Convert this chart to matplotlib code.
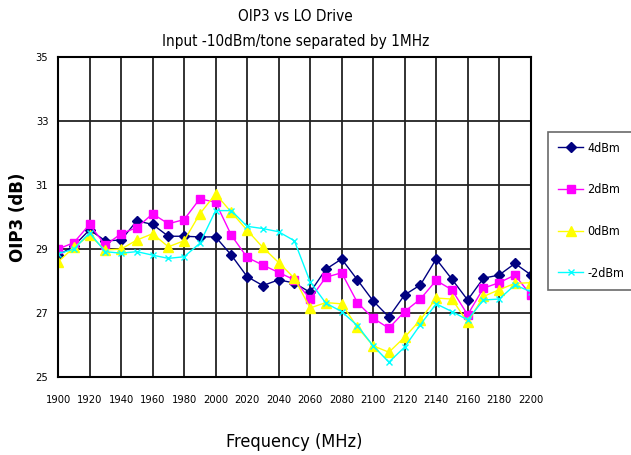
import matplotlib
matplotlib.use("Agg")
import matplotlib.pyplot as plt
import numpy as np

plt.rcParams['font.family'] = ['DejaVu Sans']
plt.rcParams['font.stretch'] = 'condensed'

freq = np.arange(1900, 2201, 10)
p4 = [28.8, 29.1, 29.6, 29.26, 29.28, 29.88, 29.77, 29.4, 29.4, 29.38, 29.38,
      28.81, 28.14, 27.86, 28.04, 27.94, 27.65, 28.37, 28.69, 28.04, 27.38,
      26.88, 27.57, 27.88, 28.69, 28.06, 27.41, 28.09, 28.19, 28.55, 28.2]
p2 = [29.0, 29.2, 29.77, 29.12, 29.48, 29.67, 30.1, 29.79, 29.92, 30.57, 30.46,
      29.43, 28.74, 28.5, 28.27, 28.04, 27.44, 28.12, 28.26, 27.33, 26.84,
      26.53, 27.05, 27.44, 28.02, 27.73, 26.95, 27.78, 27.95, 28.19, 27.57]
p0 = [28.6, 29.05, 29.43, 28.97, 29.0, 29.28, 29.48, 29.07, 29.26, 30.1, 30.72,
      30.15, 29.59, 29.05, 28.58, 28.09, 27.16, 27.33, 27.29, 26.56, 25.98,
      25.78, 26.25, 26.79, 27.47, 27.44, 26.71, 27.52, 27.73, 27.93, 27.95]
m2 = [28.85, 29.0, 29.5, 28.92, 28.87, 28.92, 28.81, 28.71, 28.76, 29.18, 30.2,
      30.2, 29.71, 29.64, 29.54, 29.26, 27.98, 27.31, 27.05, 26.61, 25.98,
      25.47, 25.94, 26.64, 27.29, 27.05, 26.79, 27.41, 27.44, 27.88, 27.67]

fig = plt.figure(figsize=(6.31, 4.55), dpi=100)
ax = fig.add_axes([0.092, 0.171, 0.749, 0.704])

ax.plot(freq, p4, color='#000080', marker='D', markersize=5, lw=1, label='4dBm')
ax.plot(freq, p2, color='#ff00ff', marker='s', markersize=6, lw=1, label='2dBm')
ax.plot(freq, p0, color='#ffff00', marker='^', markersize=7, lw=1, label='0dBm')
ax.plot(freq, m2, color='#00ffff', marker='x', markersize=5, lw=1, label='-2dBm')

ax.set_xlim(1900, 2200)
ax.set_ylim(25, 35)
ax.set_xticks(np.arange(1900, 2201, 20))
ax.set_yticks([25, 27, 29, 31, 33, 35])
ax.grid(True, color='#222222', lw=1.3)
ax.set_axisbelow(True)
ax.tick_params(length=0, labelsize=8, pad=13)
ax.tick_params(axis='y', pad=7)
for s in ax.spines.values():
    s.set_linewidth(1.5)

ax.set_xlabel("Frequency (MHz)", fontsize=13, labelpad=20)
ax.set_ylabel("OIP3 (dB)", fontsize=12, fontweight='bold', labelpad=6,
              fontstretch='normal')
fig.text(0.468, 0.963, "OIP3 vs LO Drive", ha='center', va='center', fontsize=11)
fig.text(0.468, 0.908, "Input -10dBm/tone separated by 1MHz", ha='center', va='center', fontsize=11)

leg = fig.legend(loc='center left', bbox_to_anchor=(0.869, 0.537), frameon=True,
                 fancybox=False, edgecolor='#444444', labelspacing=2.3,
                 handlelength=2.0, handletextpad=0.3, fontsize=9, borderpad=0.8,
                 borderaxespad=0)
leg.get_frame().set_linewidth(1.2)

plt.savefig("out.png", dpi=100)
